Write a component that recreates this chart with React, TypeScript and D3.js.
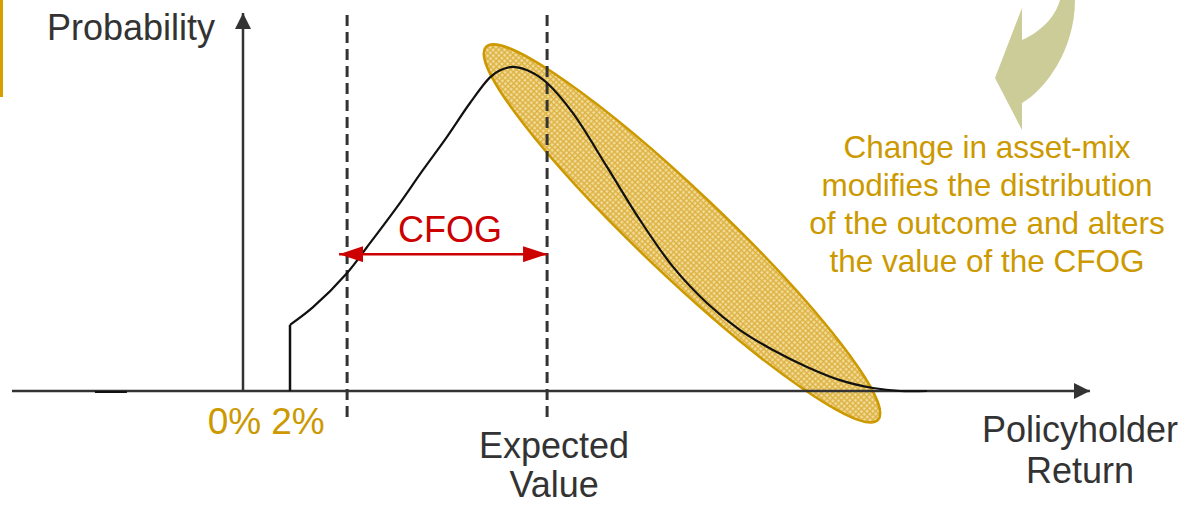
import React from "react";
import * as d3 from "d3";

// Return (in %) and probability density of the policyholder outcome
const returnPts = [2.0, 2.98, 4.43, 5.28, 6.55, 7.66, 8.68, 9.66, 10.51, 10.94, 11.49, 12.34, 12.94, 14.04, 15.49, 16.89, 18.3, 19.74, 21.15, 22.55, 24.0, 25.4, 26.81, 27.96, 29.11];
const densityPts = [0.176, 0.223, 0.314, 0.383, 0.489, 0.588, 0.676, 0.766, 0.834, 0.853, 0.862, 0.846, 0.819, 0.739, 0.596, 0.455, 0.33, 0.234, 0.162, 0.109, 0.064, 0.029, 0.008, 0.0, 0.0];
const leftTailReturns = [-6.3, -4.94];

const floorReturn = 2; // guaranteed minimum return
const tickReturns = [0, 2];
const tickLabels = ["0%", "2%"];
const cfogStart = 4.43;
const expectedValue = 12.94;
const axisReturnRange = [-9.83, 36.04];

// Highlighted upper part of the distribution (major-axis ends)
const ellipseEnds = [
  { r: 10.34, p: 0.915 },
  { r: 27.02, p: -0.077 },
];

const noteLines = [
  "Change in asset-mix",
  "modifies the distribution",
  "of the outcome and alters",
  "the value of the CFOG",
];

const W = 1192;
const H = 505;
const FONT = "'Liberation Sans', Arial, Helvetica, sans-serif";
const GOLD = "#cc9900";
const INK = "#333333";
const RED = "#cc0000";

export default function App() {
  const x = d3.scaleLinear().domain([0, 2]).range([243, 290]);
  const y = d3.scaleLinear().domain([0, 1]).range([391, 15]);

  const pts: [number, number][] = returnPts.map((r, i) => [r, densityPts[i]]);
  const curve = d3
    .line<[number, number]>()
    .x((d) => x(d[0]))
    .y((d) => y(d[1]))
    .curve(d3.curveCatmullRom.alpha(0.5))(pts);

  const floorLine = d3.line<[number, number]>().x((d) => x(d[0])).y((d) => y(d[1]))([
    [floorReturn, 0],
    [floorReturn, densityPts[0]],
  ]);

  const e0 = { x: x(ellipseEnds[0].r), y: y(ellipseEnds[0].p) };
  const e1 = { x: x(ellipseEnds[1].r), y: y(ellipseEnds[1].p) };
  const ecx = (e0.x + e1.x) / 2;
  const ecy = (e0.y + e1.y) / 2;
  const erx = Math.hypot(e1.x - e0.x, e1.y - e0.y) / 2;
  const eang = (Math.atan2(e1.y - e0.y, e1.x - e0.x) * 180) / Math.PI;

  const axisY = y(0);
  const axisX0 = x(axisReturnRange[0]);
  const axisX1 = x(axisReturnRange[1]);
  const yAxisX = x(0);
  const dashTop = y(1);
  const dashBottom = y(-0.077);
  const cfogY = y(0.364);

  return (
    <svg
      width={W}
      height={H}
      viewBox={`0 0 ${W} ${H}`}
      style={{ position: "fixed", left: 0, top: 0, background: "#fff" }}
      fontFamily={FONT}
    >
      <defs>
        <pattern id="grid" width="4" height="4" patternUnits="userSpaceOnUse">
          <rect width="4" height="4" fill="#f0d68e" />
          <rect x="0" y="0" width="1.3" height="4" fill="#dcb13f" />
          <rect x="0" y="0" width="4" height="1.3" fill="#dcb13f" />
          <rect x="2.3" y="2.3" width="1" height="1" fill="#f9ecc4" />
        </pattern>
        <marker id="axHead" viewBox="0 0 10 10" refX="10" refY="5" markerWidth="16" markerHeight="16" markerUnits="userSpaceOnUse" orient="auto">
          <path d="M0,0 L10,5 L0,10 Z" fill={INK} />
        </marker>
        <marker id="redHead" viewBox="0 0 10 10" refX="10" refY="5" markerWidth="24" markerHeight="16" markerUnits="userSpaceOnUse" orient="auto-start-reverse" preserveAspectRatio="none">
          <path d="M0,0 L10,5 L0,10 Z" fill={RED} />
        </marker>
      </defs>

      {/* side accent bar */}
      <rect x={0} y={0} width={3} height={97} fill="#d4a000" />

      {/* curved pointer */}
      <path
        d="M1022,8 L995,78 L1022,130 L1022,103 C1045,90 1075,50 1075,0 L1060,0 C1055,18 1040,32 1022,40 Z"
        fill="#cccc99"
      />

      {/* highlighted region */}
      <ellipse
        cx={ecx}
        cy={ecy}
        rx={erx}
        ry={42}
        transform={`rotate(${eang} ${ecx} ${ecy})`}
        fill="url(#grid)"
        stroke={GOLD}
        strokeWidth={2.5}
      />

      {/* axes */}
      <line x1={axisX0} y1={axisY} x2={axisX1} y2={axisY} stroke={INK} strokeWidth={2.5} markerEnd="url(#axHead)" />
      <line x1={yAxisX} y1={axisY} x2={yAxisX} y2={13} stroke={INK} strokeWidth={2.5} markerEnd="url(#axHead)" />

      {/* reference lines */}
      {[cfogStart, expectedValue].map((v) => (
        <line
          key={v}
          x1={x(v)}
          x2={x(v)}
          y1={dashTop}
          y2={dashBottom}
          stroke={INK}
          strokeWidth={3}
          strokeDasharray="11,6"
        />
      ))}

      {/* distribution */}
      <path d={floorLine || ""} fill="none" stroke="#111" strokeWidth={2.5} />
      <path d={curve || ""} fill="none" stroke="#111" strokeWidth={2.2} />
      <line
        x1={x(leftTailReturns[0])}
        x2={x(leftTailReturns[1])}
        y1={axisY + 1}
        y2={axisY + 1}
        stroke="#111"
        strokeWidth={2}
      />

      {/* CFOG span */}
      <line
        x1={x(cfogStart) - 8}
        x2={x(expectedValue)}
        y1={cfogY}
        y2={cfogY}
        stroke={RED}
        strokeWidth={2.5}
        markerStart="url(#redHead)"
        markerEnd="url(#redHead)"
      />
      <text x={(x(cfogStart) + x(expectedValue)) / 2 + 3} y={242} textAnchor="middle" fontSize={36} fill={RED}>
        CFOG
      </text>

      {/* labels */}
      <text x={47} y={40} fontSize={36} fill={INK}>
        Probability
      </text>
      {tickReturns.map((t, i) => (
        <text
          key={t}
          x={x(t) + (i === 0 ? -8.5 : 8)}
          y={434}
          textAnchor="middle"
          fontSize={37}
          fill={GOLD}
        >
          {tickLabels[i]}
        </text>
      ))}
      <text textAnchor="middle" fontSize={36} fill={INK}>
        <tspan x={x(expectedValue) + 7} y={458}>Expected</tspan>
        <tspan x={x(expectedValue) + 7} y={497}>Value</tspan>
      </text>
      <text textAnchor="middle" fontSize={36} fill={INK}>
        <tspan x={1080} y={442}>Policyholder</tspan>
        <tspan x={1080} y={483}>Return</tspan>
      </text>
      <text textAnchor="middle" fontSize={31.5} fill={GOLD}>
        {noteLines.map((l, i) => (
          <tspan key={i} x={987} y={158 + i * 38}>
            {l}
          </tspan>
        ))}
      </text>
    </svg>
  );
}
